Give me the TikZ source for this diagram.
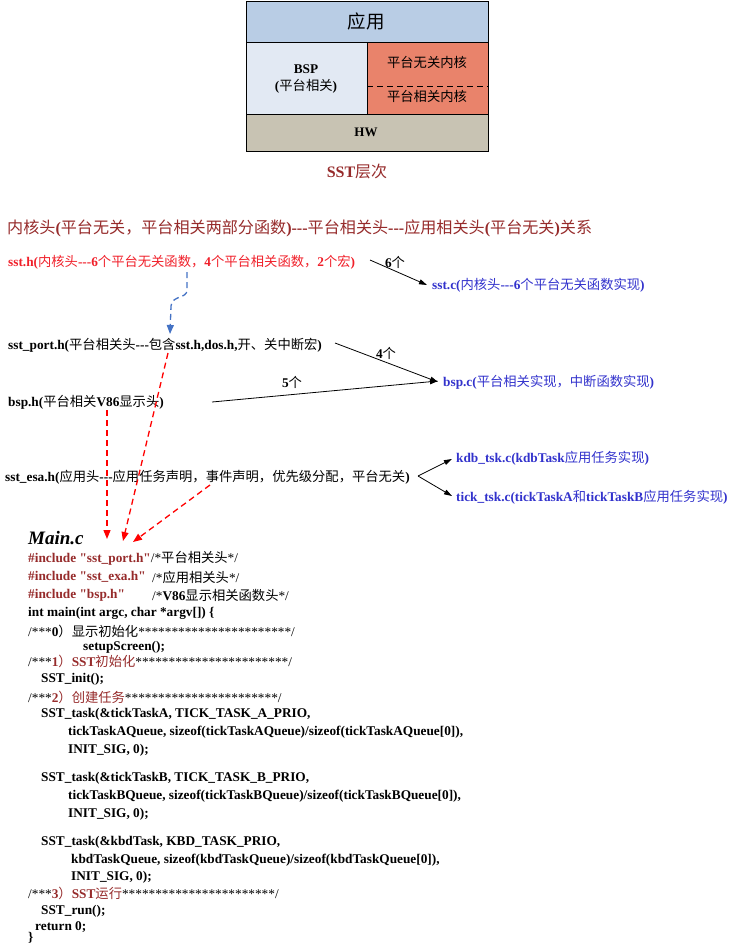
\documentclass[tikz,border=0pt]{standalone}
\usepackage{fontspec}
\setmainfont{Liberation Serif}[Ligatures=TeXOff]
\newfontfamily\cjk{Noto Sans CJK SC}
\newcommand\zh[1]{{\cjk\mdseries #1}}
\usetikzlibrary{arrows.meta}
\definecolor{appblue}{HTML}{B9CDE5}
\definecolor{bspblue}{HTML}{E2E9F3}
\definecolor{kernred}{HTML}{E9836B}
\definecolor{hwtan}{HTML}{C8C3B3}
\definecolor{dred}{HTML}{962B2B}
\definecolor{lred}{HTML}{F0202A}
\definecolor{fblue}{HTML}{3232CC}
\definecolor{dblue}{HTML}{4472C4}
\tikzset{
  lbl/.style={inner sep=0pt, anchor=west, font=\fontsize{13.3}{15}\selectfont\bfseries},
  codeln/.style={inner sep=0pt, anchor=west, font=\fontsize{13.3}{15}\selectfont\bfseries},
  boxtxt/.style={inner sep=0pt, font=\fontsize{13.3}{15}\selectfont},
  cell/.style={draw=black, line width=0.9pt},
  blk/.style={-{Triangle[length=8pt,width=5pt]}, line width=0.8pt},
  rdash/.style={-{Triangle[length=9pt,width=7pt]}, draw=red, dash pattern=on 6pt off 4pt, line width=1.3pt},
  bdash/.style={-{Triangle[length=9pt,width=7pt]}, draw=dblue, dash pattern=on 6pt off 4pt, line width=1.3pt},
}
\newcommand\stars{\mdseries ***********************/}
\begin{document}
\begin{tikzpicture}[x=1pt,y=-1pt]
\useasboundingbox (0,0) rectangle (751,945);
% ---------- layer box ----------
\draw[cell, fill=appblue] (246,1) rectangle (488,42);
\draw[cell, fill=bspblue] (246,42) rectangle (367,114);
\draw[cell, fill=kernred] (367,42) rectangle (488,114);
\draw[cell, fill=hwtan] (246,114) rectangle (488,151);
\draw[dash pattern=on 6pt off 4pt, line width=0.9pt] (367,86) -- (488,86);
\node[inner sep=0pt, font=\fontsize{18.5}{20}\selectfont] (app) at (366,21) {\zh{应用}};
\node[boxtxt, font=\fontsize{13.3}{15}\selectfont\bfseries] (bsp) at (306,69) {BSP};
\node[boxtxt, font=\fontsize{13.3}{15}\selectfont\bfseries] (bspsub) at (306,86) {(\zh{平台相关})};
\node[boxtxt] (k1) at (427,62) {\zh{平台无关内核}};
\node[boxtxt] (k2) at (427,96) {\zh{平台相关内核}};
\node[boxtxt, font=\fontsize{13}{15}\selectfont\bfseries] (hw) at (366,132) {HW};
\node[inner sep=0pt, text=dred, font=\fontsize{16}{18}\selectfont\bfseries] (cap) at (357,171) {SST\zh{层次}};
% ---------- title ----------
\node[inner sep=0pt, anchor=west, text=dred, font=\fontsize{16.1}{18}\selectfont\bfseries] (title) at (7,228)
  {\zh{内核头}(\zh{平台无关，平台相关两部分函数})---\zh{平台相关头}---\zh{应用相关头}(\zh{平台无关})\zh{关系}};
% ---------- header relations ----------
\node[lbl, text=lred] (ssth) at (8,262) {sst.h(\zh{内核头}---6\zh{个平台无关函数，}4\zh{个平台相关函数，}2\zh{个宏})};
\node[lbl, text=fblue] (sstc) at (432,285) {sst.c(\zh{内核头}---6\zh{个平台无关函数实现})};
\node[lbl] (port) at (8,345) {sst\_port.h(\zh{平台相关头}---\zh{包含}sst.h,dos.h,\zh{开、关中断宏})};
\node[lbl, text=fblue] (bspc) at (443,382) {bsp.c(\zh{平台相关实现，中断函数实现})};
\node[lbl] (bsph) at (8,402) {bsp.h(\zh{平台相关}V86\zh{显示头})};
\node[lbl] (esa) at (5,477) {sst\_esa.h(\zh{应用头}---\zh{应用任务声明，事件声明，优先级分配，平台无关})};
\node[lbl, text=fblue] (kdb) at (456,458) {kdb\_tsk.c(kdbTask\zh{应用任务实现})};
\node[lbl, text=fblue] (tick) at (456,497) {tick\_tsk.c(tickTaskA\zh{和}tickTaskB\zh{应用任务实现})};
\node[lbl, anchor=center] (n6) at (395,262) {6\zh{个}};
\node[lbl, anchor=center] (n4) at (386,353) {4\zh{个}};
\node[lbl, anchor=center] (n5) at (292,382) {5\zh{个}};
% connector end points
\coordinate (a1s) at (370,260); \coordinate (a1e) at (427,285);
\coordinate (a2s) at (335,343); \coordinate (a2e) at (438,382);
\coordinate (a3s) at (212,402); \coordinate (a3e) at (438,381);
\coordinate (vx) at (418,476);
\coordinate (a4e) at (452,459); \coordinate (a5e) at (452,496);
\draw[blk] (a1s) -- (a1e);
\draw[blk] (a2s) -- (a2e);
\draw[blk] (a3s) -- (a3e);
\draw[blk] (vx) -- (a4e);
\draw[blk] (vx) -- (a5e);
% dashed include arrows
\coordinate (b1) at (187,272); \coordinate (b2) at (170,334);
\draw[bdash] (b1) -- (187,290) .. controls (187,299) and (172,295) .. (171,306) -- (b2);
\coordinate (r1s) at (107,410); \coordinate (r1e) at (107,539);
\coordinate (r2s) at (168,353); \coordinate (r2e) at (123,541);
\coordinate (r3s) at (210,485); \coordinate (r3e) at (133,542);
\draw[rdash] (r1s) -- (r1e);
\draw[rdash] (r2s) -- (r2e);
\draw[rdash] (r3s) -- (r3e);
% ---------- Main.c ----------
\node[inner sep=0pt, anchor=west, font=\fontsize{19}{21}\selectfont\bfseries\itshape] (mainc) at (28,538) {Main.c};
\node[codeln] (c1) at (28,558) {\textcolor{dred}{\#include "sst\_port.h"}{\mdseries/*}\zh{平台相关头}{\mdseries*/}};
\node[codeln, text=dred] (c2) at (28,577) {\#include "sst\_exa.h"};
\node[codeln] (c2b) at (152,577) {{\mdseries/*}\zh{应用相关头}{\mdseries*/}};
\node[codeln, text=dred] (c3) at (28,595) {\#include "bsp.h"};
\node[codeln] (c3b) at (152,595) {{\mdseries/*}V86\zh{显示相关函数头}{\mdseries*/}};
\node[codeln] (c4) at (28,613) {int main(int argc, char *argv[]) \{};
\node[codeln] (c5) at (28,631) {{\mdseries/***}0\zh{）显示初始化}\stars};
\node[codeln] (c6) at (83,647) {setupScreen();};
\node[codeln] (c7) at (28,661) {{\mdseries/***}\textcolor{dred}{1\zh{）}SST\zh{初始化}}\stars};
\node[codeln] (c8) at (41,679) {SST\_init();};
\node[codeln] (c9) at (28,697) {{\mdseries/***}\textcolor{dred}{2\zh{）创建任务}}\stars};
\node[codeln] (c10) at (41,714) {SST\_task(\&tickTaskA, TICK\_TASK\_A\_PRIO,};
\node[codeln] (c11) at (68,732) {tickTaskAQueue, sizeof(tickTaskAQueue)/sizeof(tickTaskAQueue[0]),};
\node[codeln] (c12) at (68,750) {INIT\_SIG, 0);};
\node[codeln] (c13) at (41,778) {SST\_task(\&tickTaskB, TICK\_TASK\_B\_PRIO,};
\node[codeln] (c14) at (68,796) {tickTaskBQueue, sizeof(tickTaskBQueue)/sizeof(tickTaskBQueue[0]),};
\node[codeln] (c15) at (68,814) {INIT\_SIG, 0);};
\node[codeln] (c16) at (41,842) {SST\_task(\&kbdTask, KBD\_TASK\_PRIO,};
\node[codeln] (c17) at (71,860) {kbdTaskQueue, sizeof(kbdTaskQueue)/sizeof(kbdTaskQueue[0]),};
\node[codeln] (c18) at (71,877) {INIT\_SIG, 0);};
\node[codeln] (c19) at (28,893) {{\mdseries/***}\textcolor{dred}{3\zh{）}SST\zh{运行}}\stars};
\node[codeln] (c20) at (41,911) {SST\_run();};
\node[codeln] (c21) at (35,927) {return 0;};
\node[codeln] (c22) at (28,938) {\}};
\end{tikzpicture}
\end{document}
